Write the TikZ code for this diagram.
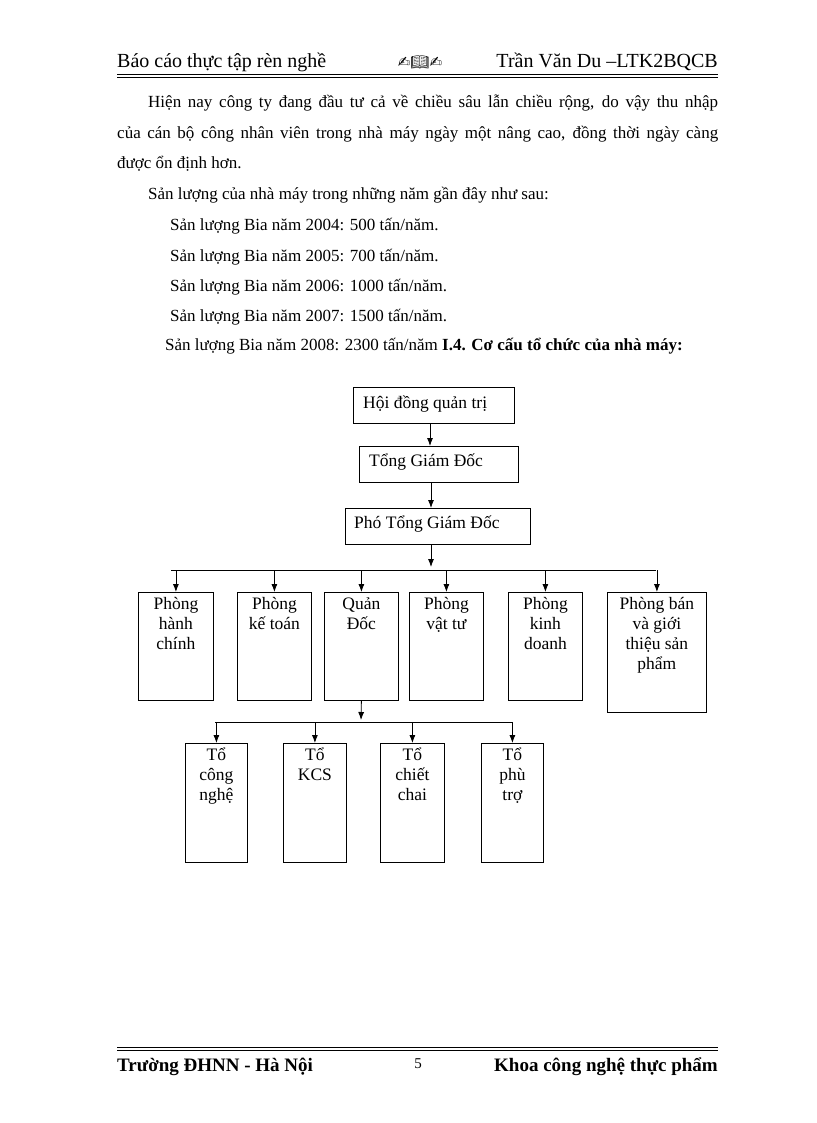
\documentclass[tikz,border=0pt]{standalone}
\usepackage{fontspec}
\setmainfont{Liberation Serif}
\newfontfamily\symf{DejaVu Sans}
\newfontfamily\emf{Noto Emoji}
\usetikzlibrary{arrows.meta}
\begin{document}
\begin{tikzpicture}[x=1pt,y=-1pt,
  box/.style={draw,thick,minimum width=#1,anchor=north west,inner sep=0pt},
  lbl/.style={anchor=north,align=center,inner sep=0pt,font=\fontsize{17.5}{20}\selectfont},
  body/.style={anchor=base west,inner sep=0pt,font=\fontsize{17}{20}\selectfont},
  arr/.style={-{Latex[length=8pt,width=6pt]},thick}]
\useasboundingbox (0,0) rectangle (816,1123);
% header
\node[anchor=base west,inner sep=0pt,font=\fontsize{20}{22}\selectfont] (h1) at (117,68) {Báo cáo thực tập rèn nghề};
\node[anchor=base,inner sep=0pt,font=\fontsize{15}{17}\selectfont] (h2) at (420,68) {{\symf ✍}{\emf 📖}{\symf ✍}};
\node[anchor=base east,inner sep=0pt,font=\fontsize{20}{22}\selectfont] (h3) at (718,68) {Trần Văn Du –LTK2BQCB};
\draw[thick] (117,74) -- (718,74);
\draw (117,77.5) -- (718,77.5);
% body
\node[body] (t1) at (148,108) {\hbox to 570pt{Hiện nay công ty đang đầu tư cả về chiều sâu lẫn chiều rộng, do vậy thu nhập}};
\node[body] (t2) at (117,139) {\hbox to 601pt{của cán bộ công nhân viên trong nhà máy ngày một nâng cao, đồng thời ngày càng}};
\node[body] (t3) at (117,169) {được ổn định hơn.};
\node[body] (t4) at (148,200) {Sản lượng của nhà máy trong những năm gần đây như sau:};
\node[body] (t5) at (170,230) {Sản lượng Bia năm 2004: 500 tấn/năm.};
\node[body] (t6) at (170,261) {Sản lượng Bia năm 2005: 700 tấn/năm.};
\node[body] (t7) at (170,291) {Sản lượng Bia năm 2006: 1000 tấn/năm.};
\node[body] (t8) at (170,321) {Sản lượng Bia năm 2007: 1500 tấn/năm.};
\node[body] (t9) at (165,350) {Sản lượng Bia năm 2008: 2300 tấn/năm \textbf{I.4. Cơ cấu tổ chức của nhà máy:}};
% chart
\node[box=161pt,minimum height=36pt] (a) at (353,387) {};
\node[lbl,anchor=west] at (363,404) {Hội đồng quản trị};
\node[box=159pt,minimum height=36pt] (b) at (359,446) {};
\node[lbl,anchor=west] at (369,462) {Tổng Giám Đốc};
\node[box=185pt,minimum height=36pt] (c) at (345,508) {};
\node[lbl,anchor=west] at (354,524) {Phó Tổng Giám Đốc};
\draw[arr] (a.south -| 430,0) -- (b.north -| 430,0);
\draw[arr] (b.south -| 431,0) -- (c.north -| 431,0);
\coordinate (bl) at (171,570); \coordinate (br) at (656,570);
\draw[arr] (c.south -| 431,0) -- (431,567);
\draw[thick] (bl) -- (br);
\foreach \n/\x/\w/\h/\t in {p1/138/75/108/{Phòng\\hành\\chính},p2/237/74/108/{Phòng\\kế toán},p3/324/74/108/{Quản\\Đốc},p4/409/74/108/{Phòng\\vật tư},p5/508/74/108/{Phòng\\kinh\\doanh},p6/607/99/120/{Phòng bán\\và giới\\thiệu sản\\phẩm}}{
  \node[box=\w pt,minimum height=\h pt] (\n) at (\x,592) {};
  \node[lbl] at ([yshift=-5pt]\n.north) {\t};
}
\foreach \n in {p1,p2,p3,p4,p5,p6}{\draw[arr] (\n.north |- bl) -- (\n.north);}
\coordinate (qd) at (361,720);
\draw[arr] (p3.south) -- (qd);
\coordinate (cl) at (215,722); \coordinate (cr) at (512,722);
\draw[thick] (cl) -- (cr);
\foreach \n/\x/\w/\t in {q1/185/62/{Tổ\\công\\nghệ},q2/283/63/{Tổ\\KCS},q3/380/64/{Tổ\\chiết\\chai},q4/481/62/{Tổ\\phù\\trợ}}{
  \node[box=\w pt,minimum height=119pt] (\n) at (\x,743) {};
  \node[lbl] at ([yshift=-5pt]\n.north) {\t};
  \draw[arr] (\n.north |- cl) -- (\n.north);
}
% footer
\draw (117,1047) -- (718,1047);
\draw[thick] (117,1050) -- (718,1050);
\node[anchor=base west,inner sep=0pt,font=\fontsize{19}{20}\selectfont\bfseries] (f1) at (117,1071) {Trường ĐHNN - Hà Nội};
\node[anchor=base,inner sep=0pt,font=\fontsize{15}{16}\selectfont] (f2) at (418,1068) {5};
\node[anchor=base east,inner sep=0pt,font=\fontsize{19}{20}\selectfont\bfseries] (f3) at (718,1071) {Khoa công nghệ thực phẩm};
\end{tikzpicture}
\end{document}
